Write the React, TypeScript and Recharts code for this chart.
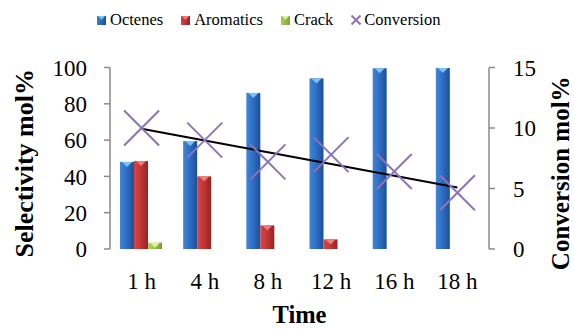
import { ComposedChart, Bar, Line, XAxis, YAxis, Legend } from 'recharts';

const times = ['1 h', '4 h', '8 h', '12 h', '16 h', '18 h'];
const octenes = [48, 59.5, 86, 94, 99.6, 99.7];
const aromatics = [48.5, 40, 13, 5.3, 0, 0];
const crack = [3.5, 0, 0, 0, 0, 0];
const conversion = [10, 9, 7.2, 7.8, 6.4, 4.65];
const trend = [9.93, 8.96, 7.99, 7.02, 6.05, 5.08];
const leftTicks = [0, 20, 40, 60, 80, 100];
const rightTicks = [0, 5, 10, 15];
const boundaryTicks = [0, 1, 2, 3, 4, 5, 6];

const data = times.map((time, i) => ({
  time,
  octenes: octenes[i],
  aromatics: aromatics[i],
  crack: crack[i],
  conversion: conversion[i],
  trend: trend[i],
}));

const FONT = '"Liberation Serif", "Times New Roman", serif';
const AXIS = '#8a8a8a';
const PURPLE = '#8b74b8';

function bevelShape(gradId: string, tip: string) {
  return (props: any) => {
    const { x, y, width, height } = props;
    if (!height || height <= 0.5) return <g />;
    const t = Math.min(5, height);
    return (
      <g>
        <rect x={x} y={y} width={width} height={height} fill={`url(#${gradId})`} />
        <polygon points={`${x + 2},${y} ${x + width - 2},${y} ${x + width / 2},${y + t}`} fill={tip} />
      </g>
    );
  };
}

function XMark(props: any) {
  const { cx, cy } = props;
  if (cx == null || cy == null) return <g />;
  const r = 17.5;
  return (
    <g stroke={PURPLE} strokeWidth={2}>
      <line x1={cx - r} y1={cy - r} x2={cx + r} y2={cy + r} />
      <line x1={cx - r} y1={cy + r} x2={cx + r} y2={cy - r} />
    </g>
  );
}

function LegendIcon({ from, to, tip }: { from: string; to: string; tip: string }) {
  return (
    <svg width={9} height={9} style={{ marginRight: 4 }}>
      <defs>
        <linearGradient id={`lg-${from}`} x1="0" y1="0" x2="1" y2="0">
          <stop offset="0%" stopColor={from} />
          <stop offset="100%" stopColor={to} />
        </linearGradient>
      </defs>
      <rect width={9} height={9} fill={`url(#lg-${from})`} />
      <polygon points="1,0 8,0 4.5,4" fill={tip} />
    </svg>
  );
}

function LegendBox() {
  const item = { display: 'flex', alignItems: 'center', marginRight: 18 } as const;
  return (
    <div style={{ height: 30, display: 'flex', alignItems: 'center', paddingLeft: 97, fontFamily: FONT, fontSize: 16.5, color: '#000' }}>
      <div style={item}><LegendIcon from="#3a7fd5" to="#1f4e92" tip="#7cc4f5" />Octenes</div>
      <div style={item}><LegendIcon from="#d64545" to="#962523" tip="#f27a7a" />Aromatics</div>
      <div style={item}><LegendIcon from="#a8cf5a" to="#7da33a" tip="#dff29a" />Crack</div>
      <div style={item}>
        <svg width={10} height={10} style={{ marginRight: 3 }}>
          <line x1={0.5} y1={0.5} x2={9.5} y2={9.5} stroke={PURPLE} strokeWidth={2} />
          <line x1={0.5} y1={9.5} x2={9.5} y2={0.5} stroke={PURPLE} strokeWidth={2} />
        </svg>
        Conversion
      </div>
    </div>
  );
}

const tickStyle = { fill: '#000', fontSize: 23, fontFamily: FONT };

export default function App() {
  return (
    <div style={{ position: 'absolute', left: 0, top: 0, width: 574, height: 329, background: '#fff', fontFamily: FONT }}>
      <ComposedChart
        width={574}
        height={329}
        data={data}
        margin={{ top: 37.5, right: 0, bottom: 0, left: 0 }}
        barGap={0}
        barCategoryGap={10}
      >
        <defs>
          <linearGradient id="gBlue" x1="0" y1="0" x2="1" y2="0">
            <stop offset="0%" stopColor="#3f86da" />
            <stop offset="45%" stopColor="#2f6fc6" />
            <stop offset="100%" stopColor="#1f4f95" />
          </linearGradient>
          <linearGradient id="gRed" x1="0" y1="0" x2="1" y2="0">
            <stop offset="0%" stopColor="#d84646" />
            <stop offset="45%" stopColor="#c23735" />
            <stop offset="100%" stopColor="#962523" />
          </linearGradient>
          <linearGradient id="gGreen" x1="0" y1="0" x2="1" y2="0">
            <stop offset="0%" stopColor="#b0d660" />
            <stop offset="50%" stopColor="#98c04c" />
            <stop offset="100%" stopColor="#749a34" />
          </linearGradient>
        </defs>
        <Legend verticalAlign="top" align="left" wrapperStyle={{ top: 5, left: 0, width: 574 }} content={() => <LegendBox />} />
        <XAxis
          xAxisId="bound"
          type="number"
          domain={[0, 6]}
          ticks={boundaryTicks}
          tick={false}
          height={0}
          axisLine={{ stroke: AXIS, strokeWidth: 1.5 }}
          tickLine={{ stroke: AXIS, strokeWidth: 1.5 }}
          tickSize={6}
          allowDataOverflow
        />
        <XAxis
          dataKey="time"
          height={80}
          axisLine={false}
          tickLine={false}
          tick={tickStyle}
          tickMargin={18}
          label={{ value: 'Time', position: 'insideBottom', offset: 6, style: { fontSize: 24.5, fontWeight: 'bold', fontFamily: FONT, fill: '#000' } }}
        />
        <YAxis
          yAxisId="left"
          domain={[0, 100]}
          ticks={leftTicks}
          width={110}
          axisLine={{ stroke: AXIS, strokeWidth: 1.5 }}
          tickLine={{ stroke: AXIS, strokeWidth: 1.5 }}
          tickSize={6}
          tickMargin={17}
          tick={tickStyle}
          label={{
            content: (p: any) => {
              const vb = p.viewBox;
              const cx = vb.x + 24;
              const cy = vb.y + vb.height / 2 + 5;
              return (
                <text x={cx} y={cy} transform={`rotate(-90 ${cx} ${cy})`} textAnchor="middle" dominantBaseline="central"
                  style={{ fontSize: 26, fontWeight: 'bold', fontFamily: FONT, fill: '#000' }}>
                  Selectivity mol%
                </text>
              );
            },
          }}
        />
        <YAxis
          yAxisId="right"
          orientation="right"
          domain={[0, 15]}
          ticks={rightTicks}
          width={85}
          axisLine={{ stroke: AXIS, strokeWidth: 1.5 }}
          tickLine={{ stroke: AXIS, strokeWidth: 1.5 }}
          tickSize={6}
          tickMargin={18}
          tick={tickStyle}
          label={{
            content: (p: any) => {
              const vb = p.viewBox;
              const cx = vb.x + 71;
              const cy = vb.y + vb.height / 2 + 15;
              return (
                <text x={cx} y={cy} transform={`rotate(-90 ${cx} ${cy})`} textAnchor="middle" dominantBaseline="central"
                  style={{ fontSize: 25, fontWeight: 'bold', fontFamily: FONT, fill: '#000' }}>
                  Conversion mol%
                </text>
              );
            },
          }}
        />
        <Bar yAxisId="left" dataKey="octenes" shape={bevelShape('gBlue', '#7cc4f5')} isAnimationActive={false} />
        <Bar yAxisId="left" dataKey="aromatics" shape={bevelShape('gRed', '#f27a7a')} isAnimationActive={false} />
        <Bar yAxisId="left" dataKey="crack" shape={bevelShape('gGreen', '#dff29a')} isAnimationActive={false} />
        <Line yAxisId="right" dataKey="conversion" stroke="none" dot={<XMark />} activeDot={false} isAnimationActive={false} />
        <Line yAxisId="right" dataKey="trend" stroke="#000" strokeWidth={2} dot={false} activeDot={false} isAnimationActive={false} />
      </ComposedChart>
    </div>
  );
}
